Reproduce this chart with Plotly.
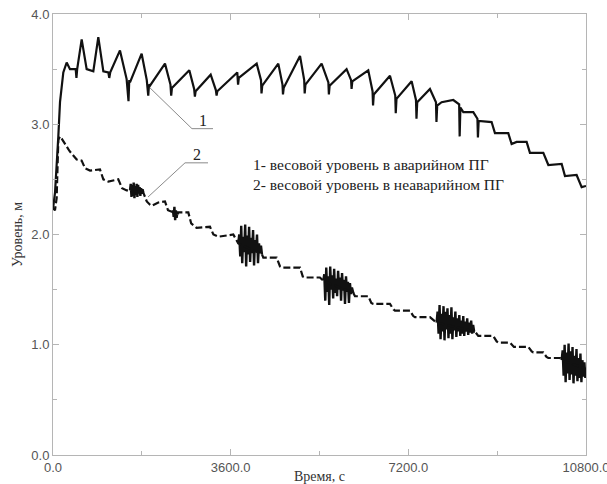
import plotly.graph_objects as go

# ---- Curve 1: weight level in the damaged SG (solid) ----
t1 = [0, 41, 108, 142, 209, 277, 344, 460, 475, 490, 581, 682, 817, 918, 1020, 1121, 1140, 1160,
      1357, 1460, 1492, 1530, 1545, 1560, 1796, 1900, 1930, 1945, 1965, 2269, 2380, 2395, 2410,
      2762, 2860, 2875, 2890, 3195, 3300, 3315, 3330, 3734, 3750, 3765, 4127, 4215, 4225, 4240,
      4565, 4650, 4660, 4675, 5005, 5090, 5100, 5115, 5443, 5580, 5590, 5605, 5949, 6040, 6050,
      6065, 6388, 6475, 6485, 6500, 6828, 6935, 6945, 6960, 7267, 7355, 7365, 7380, 7638, 7760,
      7770, 7785, 7874, 8111, 8230, 8240, 8255, 8314, 8516, 8600, 8610, 8625, 8887, 8955, 9225,
      9293, 9394, 9597, 9664, 9935, 10037, 10307, 10374, 10610, 10712, 10800]
h1 = [2.23, 2.38, 2.89, 3.20, 3.47, 3.56, 3.50, 3.50, 3.42, 3.50, 3.77, 3.50, 3.48, 3.79, 3.48, 3.47, 3.42, 3.47,
      3.67, 3.45, 3.41, 3.21, 3.40, 3.38, 3.64, 3.40, 3.26, 3.36, 3.35, 3.55, 3.36, 3.26, 3.33,
      3.49, 3.32, 3.25, 3.30, 3.45, 3.31, 3.26, 3.30, 3.47, 3.36, 3.42, 3.55, 3.40, 3.28, 3.35,
      3.55, 3.36, 3.27, 3.33, 3.62, 3.40, 3.28, 3.36, 3.55, 3.38, 3.27, 3.35, 3.50, 3.40, 3.32,
      3.39, 3.49, 3.30, 3.17, 3.27, 3.44, 3.26, 3.10, 3.23, 3.39, 3.22, 3.05, 3.20, 3.32, 3.20,
      3.02, 3.17, 3.20, 3.22, 3.18, 2.89, 3.15, 3.11, 3.11, 3.05, 2.88, 3.03, 3.02, 2.92, 2.92,
      2.82, 2.84, 2.84, 2.74, 2.74, 2.63, 2.64, 2.53, 2.54, 2.43, 2.44]

# ---- Curve 2: weight level in the intact SG (dashed) ----
t2 = [0, 40, 74, 108, 142, 176, 330, 400, 480, 581, 650, 750, 952, 1020, 1121, 1323, 1400, 1492,
      1560, 1830, 1900, 1965, 2000, 2134, 2269, 2330, 2438, 2742, 2800, 2911, 3181, 3250, 3350,
      3653, 3754, 4234, 4261, 4532, 4600, 4633, 5005, 5060, 5106, 5409, 5477, 6085, 6119, 6388,
      6450, 6490, 6828, 6900, 6929, 7233, 7300, 7334, 7638, 7773, 8550, 8617, 8921, 8990, 9023,
      9259, 9340, 9394, 9631, 9700, 9732, 9935, 10000, 10037, 10273, 10307, 10800]
h2 = [2.24, 2.22, 2.33, 2.86, 2.89, 2.87, 2.76, 2.72, 2.68, 2.67, 2.60, 2.58, 2.59, 2.50, 2.48, 2.50, 2.42, 2.40,
      2.40, 2.38, 2.30, 2.27, 2.26, 2.29, 2.30, 2.22, 2.20, 2.20, 2.10, 2.06, 2.07, 2.00, 1.98,
      2.00, 1.92, 1.82, 1.79, 1.79, 1.71, 1.70, 1.70, 1.62, 1.61, 1.61, 1.58, 1.47, 1.44, 1.44,
      1.38, 1.37, 1.37, 1.32, 1.31, 1.31, 1.26, 1.25, 1.25, 1.20, 1.12, 1.08, 1.08, 1.03, 1.02,
      1.02, 0.98, 0.98, 0.98, 0.94, 0.93, 0.93, 0.89, 0.88, 0.88, 0.86, 0.78]

# ---- Oscillation bursts on curve 2 ----
burstA_t = [1560, 1575, 1590, 1605, 1620, 1635, 1650, 1665, 1680, 1695, 1710, 1725, 1740, 1755, 1770, 1785, 1800, 1815, 1830]
burstA_h = [2.40, 2.46, 2.34, 2.45, 2.35, 2.47, 2.33, 2.44, 2.36, 2.46, 2.34, 2.45, 2.37, 2.43, 2.35, 2.42, 2.37, 2.41, 2.38]
burstA2_t = [2430, 2445, 2460, 2475, 2490, 2505, 2520, 2535]
burstA2_h = [2.22, 2.16, 2.25, 2.13, 2.22, 2.15, 2.20, 2.18]
burstB_t = [3754, 3774, 3794, 3814, 3834, 3854, 3874, 3894, 3914, 3934, 3954, 3974, 3994, 4014, 4034, 4054,
            4074, 4094, 4114, 4134, 4154, 4174, 4194, 4214, 4234]
burstB_h = [1.92, 2.00, 1.80, 2.08, 1.74, 1.98, 1.84, 2.09, 1.71, 1.99, 1.82, 2.07, 1.75, 1.97, 1.83, 2.04,
            1.72, 1.95, 1.84, 2.00, 1.74, 1.92, 1.83, 1.90, 1.82]
burstC_t = [5477, 5497, 5517, 5537, 5557, 5577, 5597, 5617, 5637, 5657, 5677, 5697, 5717, 5737, 5757, 5777,
            5797, 5817, 5837, 5857, 5877, 5897, 5917, 5937, 5957, 5977, 5997, 6017, 6037, 6057, 6085]
burstC_h = [1.58, 1.64, 1.40, 1.70, 1.48, 1.62, 1.36, 1.71, 1.50, 1.63, 1.42, 1.69, 1.47, 1.60, 1.44, 1.67,
            1.50, 1.61, 1.40, 1.65, 1.49, 1.59, 1.37, 1.62, 1.48, 1.57, 1.38, 1.56, 1.46, 1.52, 1.47]
burstD_t = [7773, 7793, 7813, 7833, 7853, 7873, 7893, 7913, 7933, 7953, 7973, 7993, 8013, 8033, 8053, 8073,
            8093, 8113, 8133, 8153, 8173, 8193, 8213, 8233, 8253, 8273, 8293, 8313, 8333, 8353, 8373, 8393,
            8413, 8433, 8453, 8473, 8493, 8513, 8533, 8550]
burstD_h = [1.20, 1.30, 1.10, 1.36, 1.05, 1.28, 1.12, 1.35, 1.04, 1.30, 1.14, 1.33, 1.06, 1.27, 1.10, 1.34,
            1.05, 1.25, 1.13, 1.30, 1.07, 1.24, 1.12, 1.27, 1.08, 1.22, 1.10, 1.26, 1.08, 1.21, 1.12, 1.24,
            1.09, 1.20, 1.11, 1.22, 1.10, 1.18, 1.12, 1.12]
burstE_t = [10307, 10327, 10347, 10367, 10387, 10407, 10427, 10447, 10467, 10487, 10507, 10527, 10547,
            10567, 10587, 10607, 10627, 10647, 10667, 10687, 10707, 10727, 10747, 10767, 10787, 10800]
burstE_h = [0.86, 0.95, 0.72, 1.00, 0.66, 0.93, 0.74, 1.01, 0.68, 0.94, 0.73, 0.98, 0.65, 0.90, 0.72, 0.96,
            0.67, 0.88, 0.70, 0.92, 0.66, 0.86, 0.71, 0.84, 0.70, 0.78]

x_ticks = [0, 3600, 7200, 10800]
x_tick_text = ["0.0", "3600.0", "7200.0", "10800.0"]
y_ticks = [0, 1, 2, 3, 4]
y_tick_text = ["0.0", "1.0", "2.0", "3.0", "4.0"]

legend_lines = ["1- весовой уровень в аварийном ПГ", "2- весовой уровень в неаварийном ПГ"]
x_title = "Время, с"
y_title = "Уровень, м"

fig = go.Figure()
for bt, bh in [(burstA_t, burstA_h), (burstA2_t, burstA2_h), (burstB_t, burstB_h),
               (burstC_t, burstC_h), (burstD_t, burstD_h), (burstE_t, burstE_h)]:
    fig.add_trace(go.Scatter(x=bt, y=bh, mode="lines", line=dict(color="#111", width=2.4),
                             showlegend=False, hoverinfo="skip"))
fig.add_trace(go.Scatter(x=t2, y=h2, mode="lines", line=dict(color="#111", width=2.2, dash="7px,3px"),
                         showlegend=False))
fig.add_trace(go.Scatter(x=t1, y=h1, mode="lines", line=dict(color="#111", width=2.2),
                         showlegend=False))

# leader lines for labels
lead_col = "#8a8a8a"
fig.add_shape(type="line", x0=1965, y0=3.33, x1=2816, y1=2.96, line=dict(color=lead_col, width=1))
fig.add_shape(type="line", x0=2816, y0=2.96, x1=3242, y1=2.96, line=dict(color=lead_col, width=1))
fig.add_shape(type="line", x0=1925, y0=2.34, x1=2675, y1=2.65, line=dict(color=lead_col, width=1))
fig.add_shape(type="line", x0=2675, y0=2.65, x1=3141, y1=2.65, line=dict(color=lead_col, width=1))

serif = "Liberation Serif, Times New Roman, serif"
fig.add_annotation(x=3040, y=2.96, text="1", showarrow=False, yanchor="bottom", yshift=-2,
                   font=dict(family=serif, size=16, color="#222"))
fig.add_annotation(x=2920, y=2.65, text="2", showarrow=False, yanchor="bottom", yshift=-2,
                   font=dict(family=serif, size=16, color="#222"))
fig.add_annotation(x=4020, y=2.65, text=legend_lines[0], showarrow=False, xanchor="left",
                   yshift=-2, font=dict(family=serif, size=15.5, color="#222"))
fig.add_annotation(x=4020, y=2.46, text=legend_lines[1], showarrow=False, xanchor="left",
                   yshift=-1, font=dict(family=serif, size=15.5, color="#222"))

axis_common = dict(showgrid=False, zeroline=False, showline=True, linecolor="#b5b5b5", linewidth=1,
                   mirror="ticks", ticks="inside", ticklen=6, tickcolor="#b5b5b5",
                   ticklabeloverflow="allow",
                   tickfont=dict(family="Liberation Sans, Arial, sans-serif", size=13, color="#555"))
fig.update_xaxes(range=[0, 10800], tickvals=x_ticks, ticktext=x_tick_text,
                 minor=dict(dtick=1800, tick0=0, ticks="inside", ticklen=4, tickcolor="#b5b5b5"),
                 title=dict(text=x_title, font=dict(family=serif, size=14, color="#333"), standoff=1),
                 automargin=False, **axis_common)
fig.update_yaxes(range=[0, 4], tickvals=y_ticks, ticktext=y_tick_text,
                 minor=dict(dtick=0.5, tick0=0, ticks="inside", ticklen=4, tickcolor="#b5b5b5"),
                 title=dict(text=y_title, font=dict(family=serif, size=14, color="#333"), standoff=5),
                 automargin=False, **axis_common)
fig.update_layout(width=607, height=484, margin=dict(l=53, r=21, t=14, b=29),
                  paper_bgcolor="white", plot_bgcolor="white")
fig.write_html("out.html")
